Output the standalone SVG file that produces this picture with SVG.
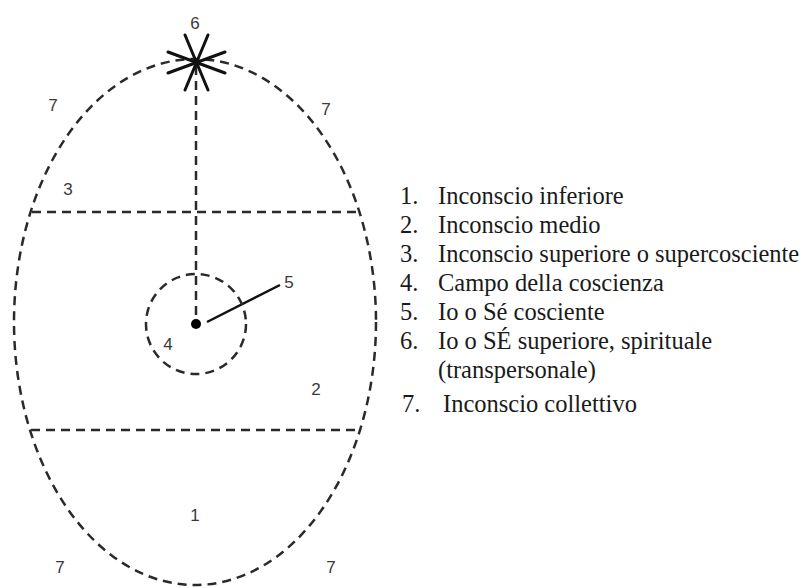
<svg xmlns="http://www.w3.org/2000/svg" width="808" height="588" viewBox="0 0 808 588">
<style>
.dash{fill:none;stroke:#2a2a2a;stroke-width:2.5;stroke-dasharray:9 6}
.lbl{font-family:"Liberation Sans",Arial,sans-serif;font-size:17px;fill:#3a3a3a;text-anchor:middle}
.leg{font-family:"Liberation Serif","Times New Roman",serif;font-size:24.5px;fill:#1a1a1a}
</style>
<rect width="808" height="588" fill="#fff"/>
<g id="egg"><ellipse class="dash" cx="195" cy="322" rx="181" ry="263"/></g>
<g id="connectors">
<line class="dash" x1="32" y1="212" x2="358" y2="212"/>
<line class="dash" x1="31" y1="430" x2="359" y2="430"/>
<line class="dash" x1="196" y1="66" x2="196" y2="322"/>
<line x1="207" y1="322" x2="280" y2="285" stroke="#111" stroke-width="2.5"/>
</g>
<g id="field"><circle class="dash" cx="196" cy="324" r="50"/></g>
<g id="self"><circle cx="196" cy="324" r="5" fill="#000"/></g>
<g id="higher-self" stroke="#111" stroke-width="3" stroke-linecap="round">
<line x1="185" y1="35" x2="208" y2="90"/>
<line x1="208" y1="35" x2="185" y2="90"/>
<line x1="168" y1="52" x2="225" y2="73"/>
<line x1="225" y1="52" x2="168" y2="73"/>
</g>
<g id="labels">
<text class="lbl" x="195" y="29">6</text>
<text class="lbl" x="53" y="111">7</text>
<text class="lbl" x="326" y="115">7</text>
<text class="lbl" x="68" y="195">3</text>
<text class="lbl" x="289" y="288">5</text>
<text class="lbl" x="168" y="350">4</text>
<text class="lbl" x="316" y="395">2</text>
<text class="lbl" x="195" y="521">1</text>
<text class="lbl" x="60" y="573">7</text>
<text class="lbl" x="331" y="573">7</text>
</g>
<g id="legend">
<text class="leg" x="400" y="204">1.</text><text class="leg" x="438" y="204">Inconscio inferiore</text>
<text class="leg" x="400" y="233">2.</text><text class="leg" x="438" y="233">Inconscio medio</text>
<text class="leg" x="400" y="262">3.</text><text class="leg" x="438" y="262">Inconscio superiore o supercosciente</text>
<text class="leg" x="400" y="291">4.</text><text class="leg" x="438" y="291">Campo della coscienza</text>
<text class="leg" x="400" y="320">5.</text><text class="leg" x="438" y="320">Io o Sé cosciente</text>
<text class="leg" x="400" y="349">6.</text><text class="leg" x="438" y="349">Io o SÉ superiore, spirituale</text>
<text class="leg" x="438" y="378">(transpersonale)</text>
<text class="leg" x="402" y="412">7.</text><text class="leg" x="443" y="412">Inconscio collettivo</text>
</g>
</svg>
